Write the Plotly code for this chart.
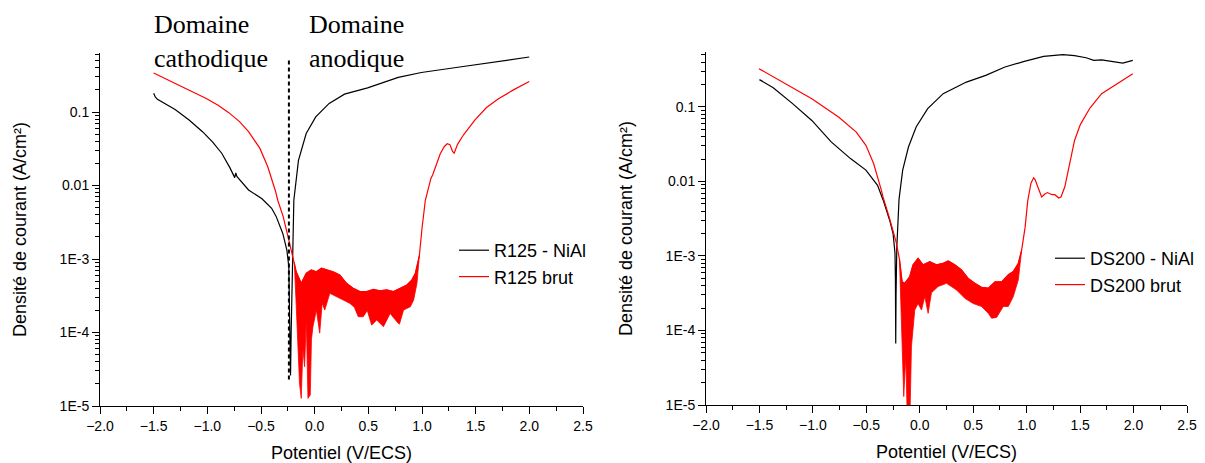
import plotly.graph_objects as go

# ---------------- data : left panel (R125) ----------------
r125_nial_v = [-1.5, -1.485, -1.465, -1.3, -1.17, -1.045, -0.95, -0.866, -0.79, -0.745, -0.735, -0.725,
               -0.616, -0.491, -0.401, -0.359, -0.297, -0.259, -0.241, -0.234, -0.228, -0.225, -0.219,
               -0.209, -0.194, -0.151, -0.079, 0.01, 0.135, 0.278, 0.493, 0.779, 0.994, 1.351, 1.709, 1.999]
r125_nial_j = [0.18, 0.16, 0.149, 0.108, 0.078, 0.054, 0.039, 0.0275, 0.0175, 0.0128, 0.0148, 0.0133,
               0.0087, 0.0066, 0.0049, 0.0038, 0.00223, 0.00132, 7.9e-4, 2.77e-4, 5.8e-5, 2.6e-5, 1e-4,
               7.9e-4, 0.0063, 0.022, 0.051, 0.086, 0.131, 0.175, 0.213, 0.296, 0.345, 0.41, 0.486, 0.56]

r125_brut_v = [-1.5, -1.26, -1.01, -0.9, -0.8, -0.7, -0.616, -0.51, -0.437, -0.366, -0.344, -0.294, -0.26,
               -0.241, -0.215, -0.19]
r125_brut_j = [0.34, 0.232, 0.153, 0.124, 0.098, 0.074, 0.054, 0.032, 0.018, 0.0085, 0.0063, 0.0038, 0.0025,
               0.00182, 0.00125, 9e-4]
r125_hi_v = [-0.19, -0.172, -0.125, -0.1, -0.078, -0.031, 0.016, 0.063, 0.125, 0.172, 0.234, 0.297, 0.359,
             0.422, 0.484, 0.547, 0.609, 0.672, 0.734, 0.797, 0.859, 0.906, 0.938, 0.975]
r125_hi_j = [9e-4, 6.7e-4, 4.67e-4, 5.5e-4, 6.4e-4, 7.1e-4, 6.7e-4, 7.5e-4, 7.1e-4, 6.7e-4, 6.05e-4, 4.67e-4,
             4e-4, 3.6e-4, 3.6e-4, 3.86e-4, 3.7e-4, 3.8e-4, 3.6e-4, 4e-4, 4.43e-4, 5.2e-4, 6.4e-4, 1.1e-3]
r125_lo_v = [-0.19, -0.175, -0.156, -0.141, -0.125, -0.11, -0.094, -0.078, -0.0625, -0.041, -0.03, -0.016,
             0.016, 0.047, 0.07, 0.094, 0.141, 0.203, 0.266, 0.328, 0.37, 0.406, 0.453, 0.49, 0.531, 0.578,
             0.641, 0.703, 0.766, 0.79, 0.828, 0.891, 0.922, 0.953, 0.975]
r125_lo_j = [9e-4, 3e-4, 7.9e-5, 2.03e-5, 1.27e-5, 6e-5, 3.43e-5, 1.5e-4, 1.27e-5, 1.41e-5, 8e-5, 1.2e-4,
             2.02e-4, 9.8e-5, 2.5e-4, 2.02e-4, 3.41e-4, 3.07e-4, 2.77e-4, 2.49e-4, 2.2e-4, 1.64e-4, 1.64e-4,
             2e-4, 1.26e-4, 1.48e-4, 1.2e-4, 1.82e-4, 1.4e-4, 1.3e-4, 2.02e-4, 2.24e-4, 2.77e-4, 4.67e-4, 1.1e-3]
r125_ano_v = [0.975, 0.984, 1.0, 1.031, 1.06, 1.083, 1.1, 1.137, 1.17, 1.208, 1.235, 1.26, 1.285, 1.3, 1.33,
              1.387, 1.45, 1.494, 1.601, 1.709, 1.852, 1.999]
r125_ano_j = [1.1e-3, 1.6e-3, 2.6e-3, 6.3e-3, 0.0095, 0.0125, 0.014, 0.0202, 0.027, 0.034, 0.037, 0.036,
              0.029, 0.0275, 0.036, 0.049, 0.065, 0.078, 0.115, 0.15, 0.2, 0.26]

# separation between cathodic / anodic domains
sep_v = [-0.24, -0.24]
sep_j = [2.3e-5, 0.53]

# ---------------- data : right panel (DS200) ----------------
ds200_nial_v = [-1.5, -1.371, -1.19, -1.01, -0.829, -0.648, -0.504, -0.395, -0.344, -0.281, -0.25, -0.241,
                -0.232, -0.228, -0.225, -0.222, -0.215, -0.205, -0.194, -0.16, -0.106, -0.034, 0.074,
                0.219, 0.436, 0.617, 0.797, 0.978, 1.159, 1.339, 1.448, 1.556, 1.628, 1.701, 1.809,
                1.899, 1.993]
ds200_nial_j = [0.233, 0.181, 0.111, 0.066, 0.034, 0.0203, 0.0142, 0.0089, 0.0057, 0.003, 0.002, 0.0015,
                0.0011, 5e-4, 6.7e-5, 3e-4, 0.0013, 0.003, 0.0058, 0.0142, 0.029, 0.054, 0.095, 0.151,
                0.216, 0.266, 0.344, 0.41, 0.478, 0.503, 0.49, 0.458, 0.422, 0.43, 0.41, 0.389, 0.422]

ds200_brut_v = [-1.505, -1.263, -1.01, -0.757, -0.594, -0.504, -0.432, -0.359, -0.344, -0.287, -0.25,
                -0.219, -0.19]
ds200_brut_j = [0.327, 0.206, 0.129, 0.073, 0.046, 0.0306, 0.0174, 0.0076, 0.0062, 0.00335, 0.0022,
                0.0015, 9e-4]
ds200_hi_v = [-0.19, -0.165, -0.141, -0.094, -0.063, -0.016, 0.031, 0.094, 0.156, 0.219, 0.266, 0.328,
              0.391, 0.453, 0.516, 0.578, 0.641, 0.703, 0.766, 0.828, 0.875, 0.922, 0.953]
ds200_hi_j = [9e-4, 4.5e-4, 4.3e-4, 5.3e-4, 7.6e-4, 9.3e-4, 7.6e-4, 8.4e-4, 7.6e-4, 8e-4, 8.6e-4, 7.6e-4,
              6.5e-4, 5e-4, 4.3e-4, 3.8e-4, 3.7e-4, 4.5e-4, 4.5e-4, 5.6e-4, 6.2e-4, 8e-4, 1.2e-3]
ds200_lo_v = [-0.19, -0.175, -0.163, -0.15, -0.131, -0.115, -0.094, -0.085, -0.078, -0.047, -0.016, 0.016,
              0.047, 0.078, 0.109, 0.172, 0.25, 0.344, 0.422, 0.5, 0.578, 0.641, 0.672, 0.719, 0.781,
              0.828, 0.875, 0.922, 0.953]
ds200_lo_j = [9e-4, 3e-4, 6.7e-5, 1.3e-5, 4.5e-5, 5e-6, 5e-6, 3e-5, 6.1e-5, 1.88e-4, 2.3e-4, 1.88e-4,
              2.85e-4, 1.7e-4, 3.2e-4, 3.9e-4, 4.3e-4, 3.5e-4, 2.7e-4, 2.3e-4, 2.1e-4, 1.7e-4, 1.46e-4,
              1.5e-4, 2.1e-4, 2.1e-4, 2.85e-4, 4.8e-4, 1.2e-3]
ds200_ano_v = [0.953, 0.985, 1.01, 1.04, 1.065, 1.08, 1.095, 1.11, 1.14, 1.17, 1.195, 1.23, 1.267, 1.3,
               1.321, 1.357, 1.394, 1.42, 1.448, 1.502, 1.592, 1.701, 1.845, 1.993]
ds200_ano_j = [1.2e-3, 2.4e-3, 5.5e-3, 9.5e-3, 0.0112, 0.0105, 0.0092, 0.0082, 0.0062, 0.0068, 0.0071,
               0.0067, 0.0066, 0.006, 0.0062, 0.0085, 0.0157, 0.025, 0.0355, 0.058, 0.0967, 0.151, 0.202, 0.28]

x_tickvals = [-2.0, -1.5, -1.0, -0.5, 0.0, 0.5, 1.0, 1.5, 2.0, 2.5]
y_tickvals = [1e-5, 1e-4, 1e-3, 1e-2, 1e-1]
y_ticktext = ["1E-5", "1E-4", "1E-3", "0.01", "0.1"]

BLACK = "#000000"
RED = "#ff0000"
SANS = "Liberation Sans, Arial, sans-serif"
SERIF = "Liberation Serif, Times New Roman, serif"

fig = go.Figure()


def add_panel(xa, ya, leg, nial_v, nial_j, nial_name, brut_v, brut_j, hi_v, hi_j, lo_v, lo_j,
              ano_v, ano_j, brut_name):
    # NiAl curve (black)
    fig.add_trace(go.Scatter(x=nial_v, y=nial_j, mode="lines", name=nial_name,
                             line=dict(color=BLACK, width=1.2), xaxis=xa, yaxis=ya, legend=leg))
    # raw curve (red): cathodic branch + top of noisy plateau + anodic branch
    fig.add_trace(go.Scatter(x=brut_v + hi_v + ano_v, y=brut_j + hi_j + ano_j, mode="lines",
                             name=brut_name, line=dict(color=RED, width=1.2),
                             xaxis=xa, yaxis=ya, legend=leg))
    # noisy plateau drawn as a band between its upper and lower envelopes
    fig.add_trace(go.Scatter(x=hi_v + lo_v[::-1], y=hi_j + lo_j[::-1], mode="lines",
                             fill="toself", fillcolor=RED, line=dict(color=RED, width=0.8),
                             showlegend=False, hoverinfo="skip", xaxis=xa, yaxis=ya))


add_panel("x", "y", "legend", r125_nial_v, r125_nial_j, "R125 - NiAl",
          r125_brut_v, r125_brut_j, r125_hi_v, r125_hi_j, r125_lo_v, r125_lo_j,
          r125_ano_v, r125_ano_j, "R125 brut")
fig.add_trace(go.Scatter(x=sep_v, y=sep_j, mode="lines", showlegend=False, hoverinfo="skip",
                         line=dict(color=BLACK, width=2, dash="4px,3px"), xaxis="x", yaxis="y"))
add_panel("x2", "y2", "legend2", ds200_nial_v, ds200_nial_j, "DS200 - NiAl",
          ds200_brut_v, ds200_brut_j, ds200_hi_v, ds200_hi_j, ds200_lo_v, ds200_lo_j,
          ds200_ano_v, ds200_ano_j, "DS200 brut")

W, H = 1205, 463


def xaxis(dom_px, anchor):
    return dict(domain=[dom_px[0] / W, dom_px[1] / W], range=[-2.0, 2.5], anchor=anchor,
                automargin=False,
                tickmode="array", tickvals=x_tickvals, tickformat=".1f",
                showline=True, linecolor=BLACK, linewidth=1, mirror=False,
                ticks="outside", ticklen=7, tickwidth=1, tickcolor=BLACK,
                minor=dict(ticks="outside", ticklen=4, tickwidth=1, tickcolor=BLACK, dtick=0.25),
                showgrid=False, zeroline=False,
                tickfont=dict(family=SANS, size=14, color=BLACK),
                title=dict(text="Potentiel (V/ECS)", font=dict(family=SANS, size=18, color=BLACK),
                           standoff=13))


def yaxis(anchor, bottom_px, top_px, top_log):
    return dict(type="log", domain=[1 - bottom_px / H, 1 - top_px / H],
                range=[-5, top_log], anchor=anchor, automargin=False,
                tickmode="array", tickvals=y_tickvals, ticktext=y_ticktext,
                showline=True, linecolor=BLACK, linewidth=1, mirror=False,
                ticks="outside", ticklen=7, tickwidth=1, tickcolor=BLACK,
                minor=dict(ticks="outside", ticklen=4, tickwidth=1, tickcolor=BLACK, dtick="D1"),
                showgrid=False, zeroline=False,
                tickfont=dict(family=SANS, size=14, color=BLACK),
                title=dict(text="Densité de courant (A/cm²)",
                           font=dict(family=SANS, size=18, color=BLACK), standoff=28))


fig.update_layout(
    template="none",
    width=W, height=H,
    margin=dict(l=0, r=0, t=0, b=0, pad=0),
    paper_bgcolor="white", plot_bgcolor="white",
    xaxis=xaxis((100, 583), "y"), xaxis2=xaxis((706, 1187), "y2"),
    yaxis=yaxis("x", 406, 53, -0.197),
    yaxis2=yaxis("x2", 405, 52, -0.262),
    legend=dict(x=454 / W, y=1 - 232 / H, xanchor="left", yanchor="top",
                font=dict(family=SANS, size=18, color=BLACK), bgcolor="rgba(0,0,0,0)",
                tracegroupgap=0),
    legend2=dict(x=1050 / W, y=1 - 240 / H, xanchor="left", yanchor="top",
                 font=dict(family=SANS, size=18, color=BLACK), bgcolor="rgba(0,0,0,0)",
                 tracegroupgap=0),
    annotations=[
        dict(text="Domaine<br>cathodique", xref="paper", yref="paper", x=152 / W, y=1 - 8 / H,
             xanchor="left", yanchor="top", align="left", showarrow=False,
             font=dict(family=SERIF, size=26, color=BLACK)),
        dict(text="Domaine<br>anodique", xref="paper", yref="paper", x=307 / W, y=1 - 8 / H,
             xanchor="left", yanchor="top", align="left", showarrow=False,
             font=dict(family=SERIF, size=26, color=BLACK)),
    ],
    showlegend=True,
)

fig.write_html("out.html", config={"displayModeBar": False},
               post_script="document.body.style.margin='0';document.body.style.overflow='hidden';")
